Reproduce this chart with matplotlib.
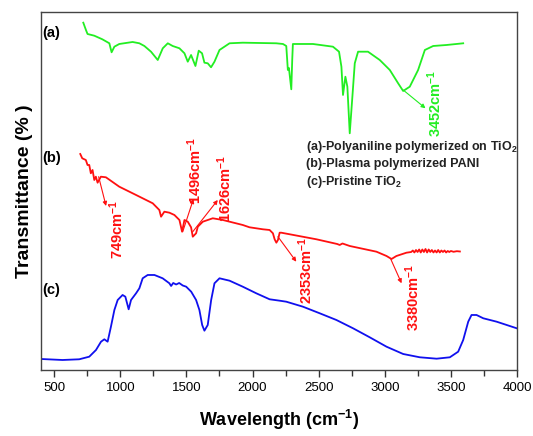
import matplotlib
matplotlib.use("Agg")
import matplotlib.pyplot as plt
from matplotlib.ticker import MultipleLocator

plt.rcParams['font.family'] = ['Liberation Sans', 'DejaVu Sans']
plt.rcParams['mathtext.fontset'] = 'custom'
plt.rcParams['mathtext.rm'] = 'Liberation Sans'
plt.rcParams['mathtext.bf'] = 'Liberation Sans:bold'
plt.rcParams['mathtext.default'] = 'regular'

# (a) Polyaniline polymerized on TiO2 (green)
wn_a = [720, 740, 752, 803, 864, 917, 934, 955, 992, 1093, 1144, 1182, 1232, 1283, 1321,
        1359, 1396, 1447, 1485, 1510, 1535, 1568, 1593, 1618, 1636, 1661, 1686, 1712, 1750,
        1826, 1926, 2179, 2230, 2255, 2267, 2275, 2293, 2300, 2305, 2457, 2608, 2654, 2672,
        2684, 2702, 2717, 2735, 2755, 2773, 2798, 2873, 2962, 3038, 3101, 3139, 3189, 3252,
        3303, 3366, 3467, 3593]
tr_a = [347.3, 340, 336, 334.3, 330.7, 326.7, 317.7, 323.3, 326, 328, 326.7, 324, 318.3, 310,
        321.7, 326.7, 324, 321.7, 316.7, 308.3, 315, 304, 319.3, 316.7, 307.3, 306.7, 302.7,
        308.3, 320, 326.7, 327.3, 326.7, 326, 324, 300, 302, 280.7, 310, 326, 326, 323.3,
        318.3, 303.3, 275, 293.3, 283.3, 236.7, 273.3, 306.7, 318.3, 318.3, 310, 300, 286.7,
        279, 283.3, 300, 320, 324, 325, 326.7]

# (b) Plasma polymerized PANI (red)
wn_b = [697, 712, 739, 752, 765, 777, 790, 803, 815, 828, 853, 891, 992, 1119, 1245, 1295,
        1308, 1333, 1371, 1409, 1447, 1467, 1485, 1510, 1535, 1548, 1573, 1586, 1624, 1699,
        1775, 1926, 1977, 2078, 2129, 2154, 2167, 2180, 2192, 2205, 2217, 2483, 2640, 2659,
        2680, 2735, 2937, 3013, 3051, 3088, 3164, 3200, 3212, 3224, 3236, 3248, 3260, 3272,
        3284, 3296, 3308, 3320, 3332, 3344, 3356, 3368, 3380, 3392, 3404, 3416, 3428, 3440,
        3452, 3464, 3476, 3488, 3500, 3520, 3545, 3568]
tr_b = [216, 211.7, 210, 205, 205, 196.7, 200, 190, 193.3, 187.3, 193.3, 192.7, 183.3, 175,
        166.7, 160, 153.3, 158.3, 157.3, 155, 150, 138.3, 150, 148.3, 142.7, 133.3, 136.7,
        143.3, 148.3, 151.7, 150, 145, 142.7, 140.7, 140, 136.7, 130.7, 127.3, 130, 137.3,
        137.3, 130.7, 126, 125, 126.5, 124, 118.3, 114, 111, 114, 117.3, 118, 119.5, 117.5,
        120, 118, 120.5, 117.5, 120.5, 118, 121, 117.5, 120.5, 118, 120, 117.5, 119.5, 117.5,
        120, 117.5, 119.5, 118, 119.5, 117.5, 119, 118, 119, 118.2, 118.8, 118.5]

# (c) Pristine TiO2 (blue)
wn_c = [400, 563, 689, 765, 816, 854, 879, 904, 929, 955, 980, 1017, 1038, 1063, 1081, 1119,
        1144, 1169, 1207, 1258, 1320, 1371, 1384, 1400, 1422, 1445, 1472, 1498, 1536, 1573,
        1598, 1619, 1636, 1661, 1687, 1712, 1750, 1826, 1926, 2028, 2129, 2205, 2255, 2381,
        2508, 2634, 2760, 2886, 3013, 3139, 3265, 3392, 3492, 3555, 3593, 3631, 3656, 3694,
        3745, 3846, 3922, 3998]
tr_c = [11, 10, 10.7, 13.3, 20, 28.3, 30.7, 28.3, 43.3, 60, 70, 75, 73.3, 60.7, 70, 76.7,
        81.7, 91.7, 95, 95, 91.7, 86.7, 84, 87, 85.5, 87, 84.5, 83.3, 78.3, 70, 60, 45, 39.3,
        45, 70, 86.7, 91.7, 89.3, 83.3, 76.7, 70.7, 69.3, 68.3, 63.3, 56.7, 50, 41.7, 32.7,
        23.3, 16, 12.7, 11.3, 12.7, 18.3, 30, 48.3, 55, 55, 51.7, 48.3, 45, 41.7]

xticks = [500, 1000, 1500, 2000, 2500, 3000, 3500, 4000]
legend_lines = [r"(a)-Polyaniline polymerized on TiO$_2$",
                "(b)-Plasma polymerized PANI",
                r"(c)-Pristine TiO$_2$"]

GREEN = '#22ee22'
RED = '#ff1010'
BLUE = '#1010ee'

fig = plt.figure(figsize=(5.33, 4.36), dpi=100)
ax = fig.add_axes([0.0769, 0.1514, 0.8931, 0.8211])

ax.plot(wn_a, tr_a, color=GREEN, lw=1.3)
ax.plot(wn_b, tr_b, color=RED, lw=1.3)
ax.plot(wn_c, tr_c, color=BLUE, lw=1.3)

ax.set_xlim(400, 4000)
ax.set_ylim(0, 358)
ax.set_xticks(xticks)
ax.xaxis.set_minor_locator(MultipleLocator(250))
ax.set_yticks([])
ax.tick_params(axis='x', which='major', direction='out', length=5, width=1, labelsize=9.5, pad=4, colors='#333333')
ax.tick_params(axis='x', which='minor', direction='out', length=4, width=1, colors='#333333')
for lab in ax.get_xticklabels():
    lab.set_color('black')
for s in ax.spines.values():
    s.set_color('#444444')
    s.set_linewidth(1.0)

ax.set_xlabel(r"Wavelength (cm$^{-1}$)", fontsize=13, fontweight='bold', labelpad=10)
ax.set_ylabel("Transmittance (% )", fontsize=14, fontweight='bold', labelpad=6)

for lbl, yv in [("(a)", 337), ("(b)", 212), ("(c)", 80)]:
    ax.text(480, yv, lbl, fontsize=10.5, fontweight='bold', ha='center', va='center')

for txt, yv in zip(legend_lines, [223, 206, 188]):
    ax.text(2402, yv, txt, fontsize=9, fontweight='bold', ha='left', va='center', color='#222222')

annots = [
    ("749cm$^{-1}$", (836, 193.3), (892, 164), (970, 141), RED),
    ("1496cm$^{-1}$", (1472, 138.3), (1553, 171), (1561, 200), RED),
    ("1626cm$^{-1}$", (1548, 138.3), (1737, 170), (1788, 182), RED),
    ("2353cm$^{-1}$", (2192, 133.3), (2331, 108.3), (2402, 100), RED),
    ("3380cm$^{-1}$", (3046, 110.7), (3127, 86.7), (3212, 73), RED),
    ("3452cm$^{-1}$", (3139, 280), (3308, 261.7), (3379, 267), GREEN),
]
for txt, start, end, tpos, col in annots:
    ax.annotate("", xy=end, xytext=start,
                arrowprops=dict(arrowstyle='-|>', color=col, lw=0.8, mutation_scale=6,
                                shrinkA=0, shrinkB=0))
    ax.text(tpos[0], tpos[1], txt, rotation=90, color=col, fontsize=10.5, fontweight='bold',
            ha='center', va='center')

fig.savefig("out.png", dpi=100)
